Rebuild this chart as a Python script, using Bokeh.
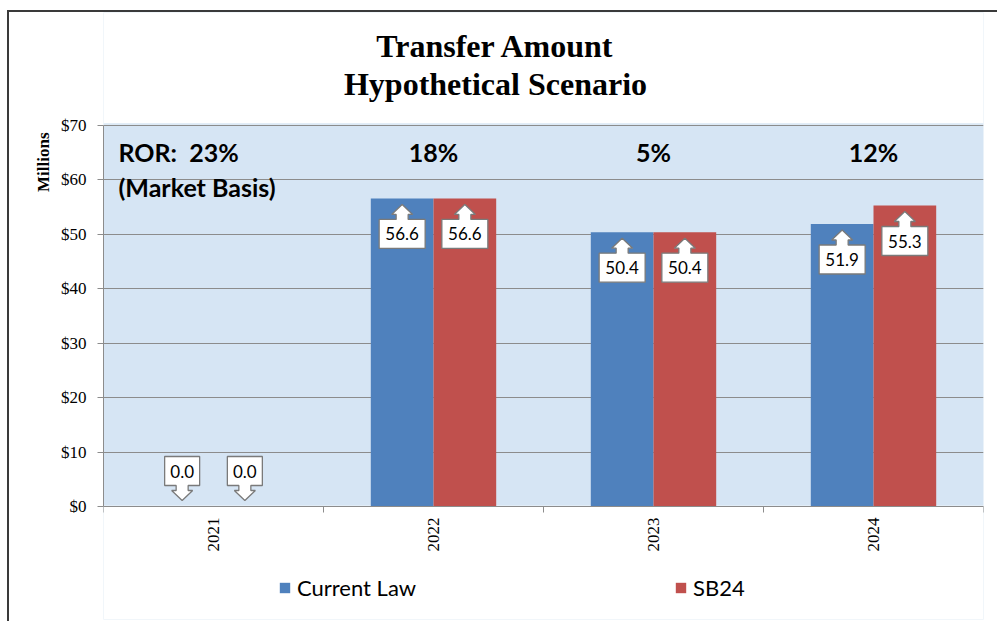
import math
from bokeh.plotting import figure
from bokeh.models import FixedTicker, Title, Legend, LegendItem, BoxAnnotation
from bokeh.core.properties import value
from bokeh.embed import file_html
from bokeh.resources import INLINE

# ---------------- data ----------------
years = ["2021", "2022", "2023", "2024"]
current_law = [0.0, 56.6, 50.4, 51.9]
sb24 = [0.0, 56.6, 50.4, 55.3]
ror_pct = ["23%", "18%", "5%", "12%"]
y_ticks = [0, 10, 20, 30, 40, 50, 60, 70]
y_tick_labels = ["$0", "$10", "$20", "$30", "$40", "$50", "$60", "$70"]
series_names = ["Current Law", "SB24"]
title_lines = ["Transfer Amount", "Hypothetical Scenario"]

# ---------------- layout ----------------
W, H = 990, 611
FL, FR, FB = 94, 16, 4
TOP_GAP = 113                     # pixels between canvas top and the $70 line
PLOT_H = 381                      # pixel height of the $0-$70 plot area
frame_w = W - FL - FR
frame_h = H - FB
YMAX = 70
NCAT = len(years)
px_x = NCAT / frame_w
px_y = YMAX / PLOT_H
YTOP = YMAX + TOP_GAP * px_y      # frame continues above $70 for the title
YMIN = YTOP - frame_h * px_y      # ... and below $0 for axis labels + legend

BLUE = "#4f81bd"
RED = "#c0504d"
SERIF = "Liberation Serif"
SANS = "Lato"

p = figure(width=W, height=H, x_range=(0, NCAT), y_range=(YMIN, YTOP), title=None,
           output_backend="svg", toolbar_location=None,
           min_border_left=FL, min_border_right=FR, min_border_top=0,
           min_border_bottom=FB)
p.styles = {"border-left": "2px solid #3a3a3a", "border-top": "2px solid #3a3a3a",
            "margin-top": "10px", "margin-left": "7px"}
p.background_fill_color = "#d6e5f4"
p.border_fill_color = "white"
p.outline_line_color = None
p.xgrid.visible = False
p.ygrid.grid_line_color = "#8c8c8c"
p.ygrid.ticker = FixedTicker(ticks=y_ticks)
# white areas outside the $0-$70 plot area
p.add_layout(BoxAnnotation(top=0, fill_color="white", fill_alpha=1, line_color="white",
                           line_width=3, level="underlay"))
p.add_layout(BoxAnnotation(bottom=YMAX + 2.5 * px_y, fill_color="white", fill_alpha=1,
                           line_color="white", line_width=3, level="underlay"))

# y axis
ya = p.yaxis[0]
ya.ticker = FixedTicker(ticks=y_ticks, minor_ticks=[])
ya.bounds = (0, YMAX)
ya.major_label_overrides = {t: l for t, l in zip(y_ticks, y_tick_labels)}
ya.axis_line_color = "#8c8c8c"
ya.major_tick_line_color = "#8c8c8c"
ya.major_tick_in = 0
ya.major_tick_out = 6
ya.minor_tick_line_color = None
ya.major_label_standoff = 11
ya.major_label_text_font = SERIF
ya.major_label_text_font_size = "17px"
ya.major_label_text_color = "black"

# x axis (drawn at $0)
centers = [i + 0.5 for i in range(NCAT)]
xa = p.xaxis[0]
xa.fixed_location = 0
xa.ticker = FixedTicker(ticks=centers, minor_ticks=list(range(NCAT + 1)))
xa.major_label_overrides = {c: y for c, y in zip(centers, years)}
xa.major_label_orientation = math.pi / 2
xa.axis_line_color = "#8c8c8c"
xa.major_tick_line_color = None
xa.minor_tick_line_color = "#8c8c8c"
xa.minor_tick_in = 0
xa.minor_tick_out = 6
xa.major_label_standoff = 5
xa.major_label_text_font = SERIF
xa.major_label_text_font_size = "17px"
xa.major_label_text_color = "black"

# bars
off = 0.1425
bw = 0.285
xb = [c - off for c in centers]
xr = [c + off for c in centers]
r1 = p.vbar(x=xb, top=current_law, width=bw, fill_color=BLUE, line_color=None)
r2 = p.vbar(x=xr, top=sb24, width=bw, fill_color=RED, line_color=None)

# callouts
xs, ys, tx, ty, tt = [], [], [], [], []
for xs_c, vals in ((xb, current_law), (xr, sb24)):
    for cx, v in zip(xs_c, vals):
        lab = f"{v:.1f}"
        hw = (11 * len(lab) + 2) / 2
        shape = [(0, 6), (10.5, 16), (6, 16), (6, 21), (hw, 21), (hw, 50),
                 (-hw, 50), (-hw, 21), (-6, 21), (-6, 16), (-10.5, 16)]
        sgn = -1 if v > 0 else 1
        xs.append([cx + dx * px_x for dx, dy in shape])
        ys.append([v + sgn * dy * px_y for dx, dy in shape])
        tx.append(cx)
        ty.append(v + sgn * 35.5 * px_y)
        tt.append(lab)
p.patches(xs, ys, fill_color="white", line_color="#7a7a7a", line_width=1.3)
p.text(x=tx, y=ty, text=tt, text_align="center", text_baseline="middle",
       text_font=value(SANS), text_font_size="17px", text_color="black")

# ROR annotations
y_ror = YMAX - 26 * px_y
y_mb = YMAX - 61 * px_y
p.text(x=[15 * px_x], y=[y_ror], text=["ROR:\u00a0 " + ror_pct[0]], text_align="left",
       text_baseline="alphabetic", text_font=value(SANS), text_font_style="bold",
       text_font_size="25px", text_color="black")
p.text(x=[15 * px_x], y=[y_mb], text=["(Market Basis)"], text_align="left",
       text_baseline="alphabetic", text_font=value(SANS), text_font_style="bold",
       text_font_size="25px", text_color="black")
p.text(x=centers[1:], y=[y_ror] * (NCAT - 1), text=ror_pct[1:], text_align="center",
       text_baseline="alphabetic", text_font=value(SANS), text_font_style="bold",
       text_font_size="25px", text_color="black")

# chart title (two centred lines above the plot area)
p.text(x=[392 * px_x] * 2, y=[YMAX + 79.5 * px_y, YMAX + 41.5 * px_y], text=title_lines,
       text_align="center", text_baseline="alphabetic", text_font=value(SERIF),
       text_font_style="bold", text_font_size="32px", text_color="black")

p.add_layout(Title(text="Millions", align="right", offset=120, standoff=10,
                   text_font=SERIF, text_font_style="bold", text_font_size="17px",
                   text_color="black"), "left")

legend = Legend(items=[LegendItem(label=series_names[0], renderers=[r1]),
                       LegendItem(label=series_names[1], renderers=[r2])],
                orientation="horizontal", location=(175, 18),
                glyph_width=13, glyph_height=13, label_standoff=6,
                label_width=118, spacing=258, padding=0, margin=0,
                border_line_color=None, background_fill_alpha=0,
                label_text_font=SANS, label_text_font_size="22px",
                label_text_color="black")
p.add_layout(legend)

open("out.html", "w").write(file_html(p, INLINE))
